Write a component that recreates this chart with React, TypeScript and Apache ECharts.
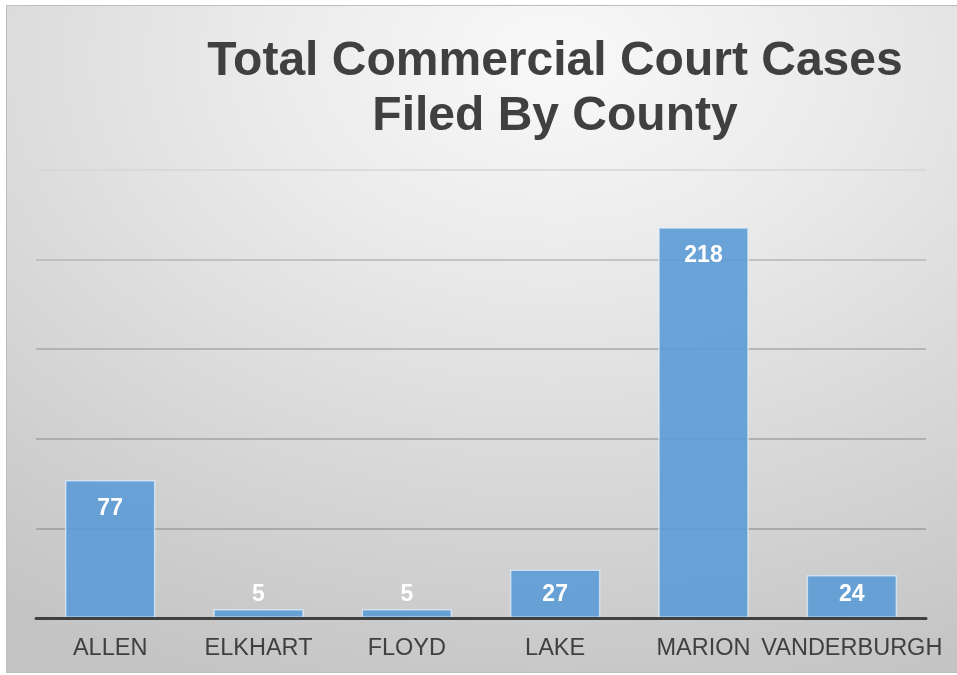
import React, { useEffect, useRef } from "react";
import * as echarts from "echarts";

const categories = ["ALLEN", "ELKHART", "FLOYD", "LAKE", "MARION", "VANDERBURGH"];
const caseCounts = [77, 5, 5, 27, 218, 24];
const yTicks = [0, 50, 100, 150, 200, 250];
const titleLines = ["Total Commercial Court Cases", "Filed By County"];

export default function App() {
  const ref = useRef<HTMLDivElement>(null);
  useEffect(() => {
    if (!ref.current) return;
    const chart = echarts.init(ref.current, null, { renderer: "svg" });
    const font = "'Liberation Sans', Arial, sans-serif";
    const data = caseCounts.map((v) => ({
      value: v,
      label:
        v < 30
          ? { position: "insideBottom" as const, distance: 14 }
          : { position: "insideTop" as const, distance: 15 },
    }));
    chart.setOption({
      animation: false,
      graphic: [
        {
          type: "rect",
          z: -100,
          shape: { x: 6.5, y: 5.5, width: 960, height: 667 },
          style: {
            fill: new echarts.graphic.RadialGradient(0.57, 0.08, 1.0, [
              { offset: 0, color: "#f9f9f9" },
              { offset: 0.3, color: "#ebebeb" },
              { offset: 0.6, color: "#dadada" },
              { offset: 0.9, color: "#c9c9c9" },
              { offset: 1, color: "#c4c4c4" },
            ]),
            stroke: "#bdbdbd",
            lineWidth: 1,
          },
        },
      ],
      title: {
        text: titleLines.join("\n"),
        left: 550,
        top: 26,
        textAlign: "center",
        textStyle: {
          fontFamily: font,
          fontWeight: "bold",
          fontSize: 48,
          lineHeight: 55,
          color: "#404040",
        },
      },
      grid: { left: 36, right: 31, top: 170, bottom: 57, containLabel: false },
      xAxis: {
        type: "category",
        data: categories,
        axisLine: { lineStyle: { color: "#404040", width: 3 } },
        axisTick: { show: false },
        axisLabel: {
          color: "#404040",
          fontFamily: font,
          fontSize: 23.5,
          margin: 17,
          interval: 0,
        },
        z: 5,
      },
      yAxis: {
        type: "value",
        min: yTicks[0],
        max: yTicks[yTicks.length - 1],
        interval: yTicks[1] - yTicks[0],
        axisLabel: { show: false },
        axisLine: { show: false },
        axisTick: { show: false },
        splitLine: {
          lineStyle: {
            width: 1.5,
            color: ["#9a9a9a", "#9c9c9c", "#a2a2a2", "#a9a9a9", "#b6b6b6", "#d6d6d6"],
          },
        },
      },
      series: [
        {
          type: "bar",
          data,
          barCategoryGap: "39%",
          itemStyle: {
            color: "rgba(91,155,213,0.9)",
            borderColor: "rgba(225,238,250,0.75)",
            borderWidth: 1.5,
          },
          label: {
            show: true,
            color: "#ffffff",
            fontFamily: font,
            fontWeight: "bold",
            fontSize: 23,
          },
        },
      ],
    });
    return () => chart.dispose();
  }, []);
  return (
    <div
      ref={ref}
      style={{ position: "fixed", left: 0, top: 0, width: 957, height: 675 }}
    />
  );
}
